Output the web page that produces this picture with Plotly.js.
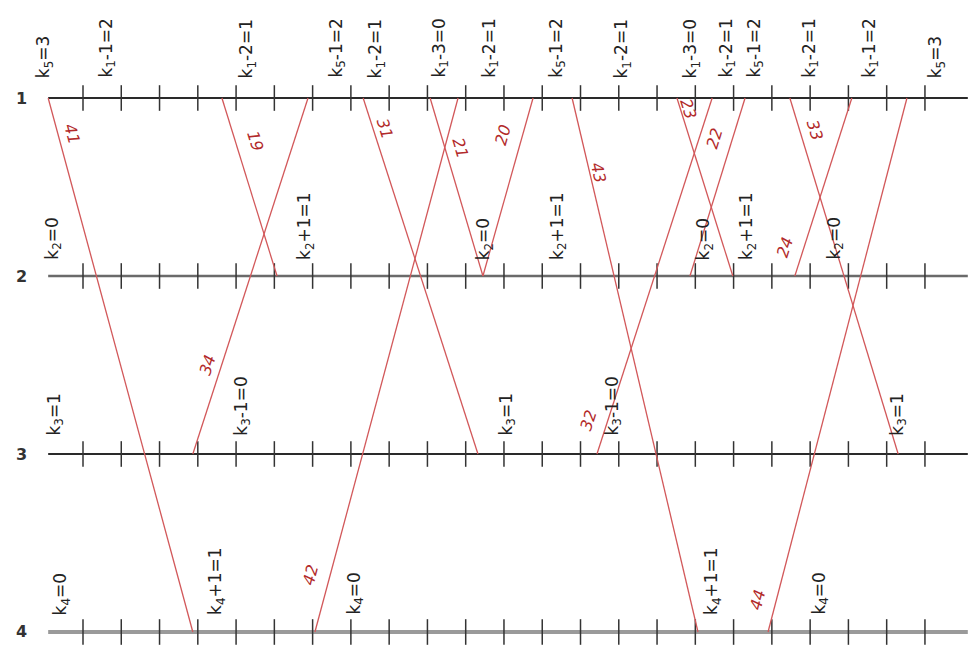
<!DOCTYPE html>
<html>
<head>
<meta charset="utf-8">
<script src="https://cdn.plot.ly/plotly-3.0.1.min.js"></script>
<style>html,body{margin:0;padding:0;background:#fff;}#chart{width:968px;height:652px;}</style>
</head>
<body>
<div id="chart"></div>
<script>
// ---- data ----
const levels = [1, 2, 3, 4];
const levelNames = ['1', '2', '3', '4'];
const tickPositions = [1, 2, 3, 4, 5, 6, 7, 8, 9, 10, 11, 12, 13, 14, 15, 16, 17, 18, 19, 20, 21, 22, 23];
const axisStart = 0.09;
const axisEnd = 24.12;

const edgeNames   = ['41', '19', '34', '31', '21', '42', '20', '43', '23', '32', '22', '33', '24', '44'];
const edgeFromLvl = [1, 1, 1, 1, 1, 1, 1, 1, 1, 1, 1, 1, 1, 1];
const edgeToLvl   = [4, 2, 3, 3, 2, 4, 2, 4, 2, 3, 2, 3, 2, 4];
const edgeFromX   = [0.09, 4.63, 6.88, 8.32, 10.07, 10.80, 12.76, 13.78, 16.52, 17.44, 18.30, 19.47, 21.09, 22.53];
const edgeToX     = [3.87, 6.07, 3.87, 11.32, 11.45, 7.06, 11.45, 17.07, 17.98, 14.43, 16.86, 22.30, 19.60, 18.90];
const edgeLabelX  = [0.71, 5.49, 4.24, 8.89, 10.85, 6.93, 11.97, 14.46, 16.81, 14.20, 17.51, 20.13, 19.34, 18.64];
const edgeLabelY  = [1.20, 1.24, 2.50, 1.17, 1.28, 3.68, 1.21, 1.42, 1.06, 2.81, 1.23, 1.18, 1.84, 3.82];

const level1LabelX = [0.0, 1.63, 5.31, 7.64, 8.68, 10.33, 11.64, 13.39, 15.11, 16.91, 17.83, 18.56, 20.0, 21.57, 23.31];
const level1Labels = ['k<sub>5</sub>=3', 'k<sub>1</sub>-1=2', 'k<sub>1</sub>-2=1', 'k<sub>5</sub>-1=2', 'k<sub>1</sub>-2=1',
  'k<sub>1</sub>-3=0', 'k<sub>1</sub>-2=1', 'k<sub>5</sub>-1=2', 'k<sub>1</sub>-2=1', 'k<sub>1</sub>-3=0',
  'k<sub>1</sub>-2=1', 'k<sub>5</sub>-1=2', 'k<sub>1</sub>-2=1', 'k<sub>1</sub>-1=2', 'k<sub>5</sub>=3'];
const level2LabelX = [0.22, 6.80, 11.50, 13.41, 17.25, 18.35, 20.65];
const level2Labels = ['k<sub>2</sub>=0', 'k<sub>2</sub>+1=1', 'k<sub>2</sub>=0', 'k<sub>2</sub>+1=1', 'k<sub>2</sub>=0', 'k<sub>2</sub>+1=1', 'k<sub>2</sub>=0'];
const level3LabelX = [0.27, 5.16, 12.08, 14.85, 22.30];
const level3Labels = ['k<sub>3</sub>=1', 'k<sub>3</sub>-1=0', 'k<sub>3</sub>=1', 'k<sub>3</sub>-1=0', 'k<sub>3</sub>=1'];
const level4LabelX = [0.45, 4.50, 8.11, 17.46, 20.26];
const level4Labels = ['k<sub>4</sub>=0', 'k<sub>4</sub>+1=1', 'k<sub>4</sub>=0', 'k<sub>4</sub>+1=1', 'k<sub>4</sub>=0'];

// ---- styles ----
const PX_PER_X = 38.27, PX_PER_Y = 178;
const levelColors = ['#2a2a2a', '#6a6a6a', '#2a2a2a', '#9a9a9a'];
const levelWidths = [2, 2.5, 2, 4];
const tickHalf = 0.072;
const redLine = '#d2585a';
const redText = '#b22a2a';
const blackText = '#222';
const FONT = 'DejaVu Sans, Verdana, sans-serif';

const traces = [];
levels.forEach((lv, i) => {
  traces.push({
    x: [axisStart, axisEnd], y: [lv, lv], mode: 'lines', hoverinfo: 'skip',
    line: {color: levelColors[i], width: levelWidths[i]}
  });
  const tx = [], ty = [];
  tickPositions.forEach(t => { tx.push(t, t, null); ty.push(lv - tickHalf, lv + tickHalf, null); });
  traces.push({x: tx, y: ty, mode: 'lines', hoverinfo: 'skip', line: {color: '#333', width: 1.5}});
});
edgeNames.forEach((n, i) => {
  traces.push({
    x: [edgeFromX[i], edgeToX[i]], y: [edgeFromLvl[i], edgeToLvl[i]], mode: 'lines', hoverinfo: 'skip',
    line: {color: redLine, width: 1.3}
  });
});

const annotations = [];
levels.forEach((lv, i) => {
  annotations.push({x: -0.6, y: lv, xref: 'x', yref: 'y', text: '<b>' + levelNames[i] + '</b>', showarrow: false,
    font: {family: FONT, size: 16, color: '#333'}, xanchor: 'center', yanchor: 'middle'});
});
const nodeSets = [[level1LabelX, level1Labels, 1, 18], [level2LabelX, level2Labels, 2, 14], [level3LabelX, level3Labels, 3, 16], [level4LabelX, level4Labels, 4, 15]];
nodeSets.forEach(([xs, ts, lv, shift]) => {
  xs.forEach((x, j) => {
    annotations.push({x: x, y: lv, xref: 'x', yref: 'y', text: ts[j], showarrow: false, textangle: -90,
      yshift: shift, xanchor: 'center', yanchor: 'bottom',
      font: {family: FONT, size: 17, color: blackText}});
  });
});
edgeNames.forEach((n, i) => {
  const dx = (edgeToX[i] - edgeFromX[i]) * PX_PER_X;
  const dy = (edgeToLvl[i] - edgeFromLvl[i]) * PX_PER_Y;
  let ang = Math.atan2(dy, dx) * 180 / Math.PI;
  if (ang > 90) ang -= 180;
  annotations.push({x: edgeLabelX[i], y: edgeLabelY[i], xref: 'x', yref: 'y', text: '<i>' + n + '</i>', showarrow: false,
    textangle: ang, xanchor: 'center', yanchor: 'middle',
    font: {family: FONT, size: 16, color: redText}});
});

const layout = {
  width: 968, height: 652,
  margin: {l: 0, r: 0, t: 0, b: 0},
  paper_bgcolor: '#fff', plot_bgcolor: '#fff',
  showlegend: false,
  xaxis: {range: [-1.1688, 24.125], visible: false, fixedrange: true},
  yaxis: {range: [4.1124, 0.4494], visible: false, fixedrange: true},
  annotations: annotations
};
Plotly.newPlot('chart', traces, layout, {displayModeBar: false, staticPlot: true});
</script>
</body>
</html>
